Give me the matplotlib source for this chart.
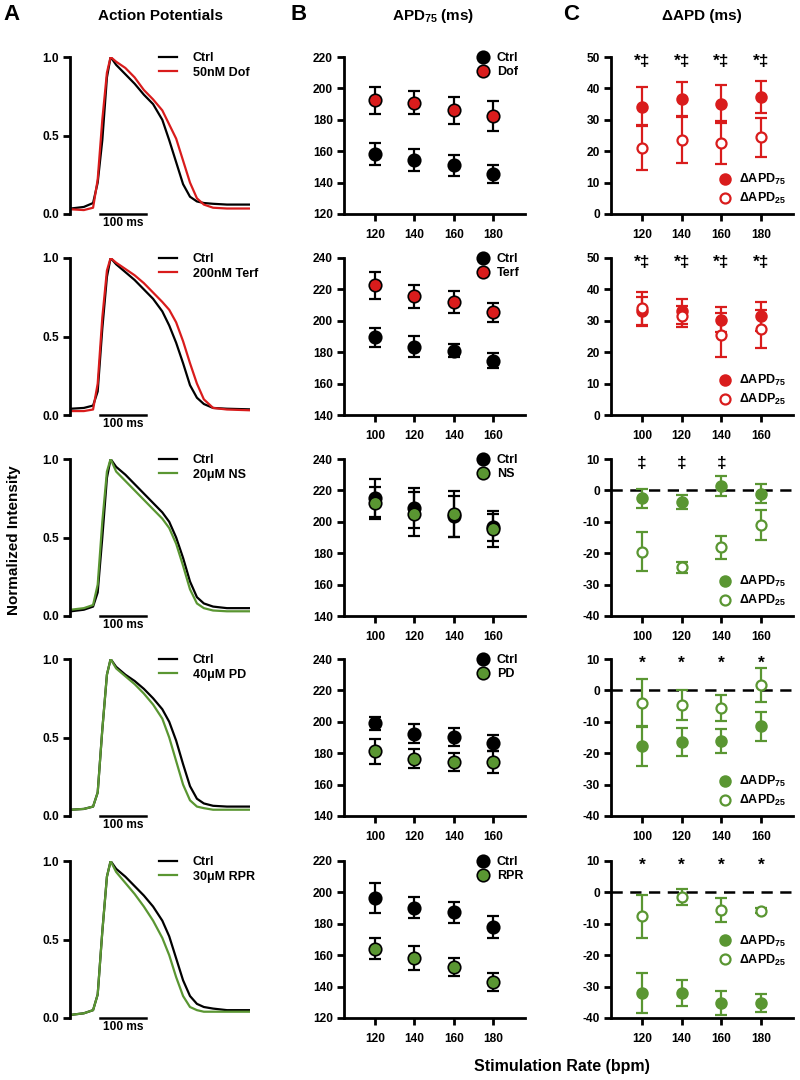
import matplotlib
matplotlib.use('Agg')
import matplotlib.pyplot as plt

plt.rcParams['font.family'] = ['Liberation Sans', 'DejaVu Sans']
plt.rcParams['font.weight'] = 'bold'
plt.rcParams['mathtext.fontset'] = 'custom'
plt.rcParams['mathtext.rm'] = 'Liberation Sans:bold'
plt.rcParams['mathtext.default'] = 'rm'
plt.rcParams['axes.unicode_minus'] = False

RED = '#d91c1c'
GREEN = '#5a9632'

# ---- A: normalized action potentials
t_ms = [2, 30, 50, 60, 70, 80, 88, 100, 120, 140, 160, 180, 200, 215, 230, 245, 260, 275, 290, 310, 340, 390]
ap_ctrl_1 = [0.035, 0.045, 0.07, 0.2, 0.47, 0.87, 1.0, 0.95, 0.89, 0.83, 0.76, 0.7, 0.6, 0.47, 0.33, 0.19, 0.11, 0.08, 0.07, 0.065, 0.06, 0.06]
ap_dof = [0.03, 0.025, 0.04, 0.22, 0.6, 0.9, 1.0, 0.97, 0.93, 0.87, 0.79, 0.73, 0.66, 0.57, 0.48, 0.34, 0.2, 0.1, 0.06, 0.04, 0.035, 0.035]
ap_ctrl_2 = [0.04, 0.045, 0.06, 0.15, 0.55, 0.88, 1.0, 0.96, 0.91, 0.86, 0.8, 0.74, 0.66, 0.57, 0.46, 0.33, 0.19, 0.11, 0.07, 0.045, 0.04, 0.036]
ap_terf = [0.025, 0.025, 0.035, 0.2, 0.62, 0.92, 1.0, 0.97, 0.93, 0.89, 0.84, 0.78, 0.72, 0.67, 0.59, 0.47, 0.33, 0.2, 0.1, 0.045, 0.035, 0.03]
ap_ctrl_3 = [0.03, 0.04, 0.06, 0.15, 0.5, 0.88, 1.0, 0.95, 0.9, 0.84, 0.78, 0.72, 0.66, 0.6, 0.5, 0.37, 0.22, 0.12, 0.08, 0.06, 0.05, 0.05]
ap_ns = [0.04, 0.05, 0.07, 0.2, 0.6, 0.92, 1.0, 0.92, 0.86, 0.8, 0.74, 0.68, 0.62, 0.56, 0.46, 0.32, 0.17, 0.08, 0.05, 0.035, 0.03, 0.03]
ap_ctrl_4 = [0.04, 0.045, 0.06, 0.15, 0.55, 0.9, 1.0, 0.95, 0.9, 0.86, 0.81, 0.75, 0.68, 0.6, 0.48, 0.33, 0.19, 0.11, 0.08, 0.065, 0.06, 0.06]
ap_pd = [0.04, 0.045, 0.06, 0.15, 0.55, 0.9, 1.0, 0.94, 0.89, 0.84, 0.78, 0.71, 0.62, 0.5, 0.35, 0.2, 0.1, 0.06, 0.05, 0.04, 0.04, 0.04]
ap_ctrl_5 = [0.02, 0.03, 0.05, 0.15, 0.55, 0.9, 1.0, 0.95, 0.9, 0.84, 0.78, 0.71, 0.62, 0.52, 0.38, 0.24, 0.14, 0.09, 0.07, 0.06, 0.05, 0.05]
ap_rpr = [0.02, 0.03, 0.05, 0.15, 0.55, 0.9, 1.0, 0.93, 0.86, 0.79, 0.71, 0.62, 0.51, 0.4, 0.26, 0.14, 0.07, 0.05, 0.04, 0.04, 0.04, 0.04]
ap_labels = ['50nM Dof', '200nM Terf', '20\u03bcM NS', '40\u03bcM PD', '30\u03bcM RPR']

# ---- B: APD75 (ms), mean and SEM
rates_a = ['120', '140', '160', '180']
rates_b = ['100', '120', '140', '160']
drug_names = ['Dof', 'Terf', 'NS', 'PD', 'RPR']

apd_ctrl_1 = [158.5, 154.5, 151, 145.5]
apd_ctrl_1_err = [7, 6.8, 6.5, 5.9]
apd_dof = [192.5, 191, 186, 182.5]
apd_dof_err = [8.5, 7.5, 8.5, 9.7]

apd_ctrl_2 = [189.5, 183.5, 181, 174.7]
apd_ctrl_2_err = [6.2, 6.6, 4, 4.7]
apd_terf = [222.5, 215.5, 211.7, 205.5]
apd_terf_err = [8.5, 7.3, 7, 6]

apd_ctrl_3 = [215, 209, 203.5, 196.5]
apd_ctrl_3_err = [12, 12.8, 13, 8.5]
apd_ns = [212, 205, 205, 195.5]
apd_ns_err = [10, 14, 14.5, 11.5]

apd_ctrl_4 = [199, 192.5, 190.2, 186.4]
apd_ctrl_4_err = [4.3, 6, 5.7, 5.3]
apd_pd = [181.2, 176.5, 174.2, 174.6]
apd_pd_err = [7.9, 6, 5.7, 6.9]

apd_ctrl_5 = [196.4, 190.2, 187.2, 178]
apd_ctrl_5_err = [9.3, 6.6, 7, 7]
apd_rpr = [164, 158.3, 152.3, 142.8]
apd_rpr_err = [6.7, 7.6, 5.7, 5.7]

# ---- C: delta APD (ms), mean and SEM
d75_1 = [34.2, 36.6, 35.1, 37.2]
d75_1_err = [6.2, 5.4, 6, 5]
d25_1 = [21.1, 23.5, 22.7, 24.4]
d25_1_err = [7.2, 7.3, 6.8, 6.1]

d75_2 = [33, 33, 30.3, 31.4]
d75_2_err = [4.5, 3.9, 4, 4.5]
d25_2 = [34, 31.4, 25.5, 27.4]
d25_2_err = [5.2, 3.4, 7, 6]

d75_3 = [-2.5, -3.7, 1.3, -1.1]
d75_3_err = [3, 2.2, 3.2, 3]
d25_3 = [-19.5, -24.5, -18.1, -10.9]
d25_3_err = [6.3, 1.8, 3.6, 4.8]

d75_4 = [-17.8, -16.4, -16.1, -11.4]
d75_4_err = [6.2, 4.4, 3.9, 4.6]
d25_4 = [-3.9, -4.7, -5.7, 1.8]
d25_4_err = [7.5, 4.8, 4.2, 5.4]

d75_5 = [-32, -32, -35.1, -35.3]
d75_5_err = [6.4, 4.2, 3.8, 2.9]
d25_5 = [-7.6, -1.5, -5.6, -5.8]
d25_5_err = [6.8, 2.5, 3.8, 0.8]

sig_1 = ['*\u2021', '*\u2021', '*\u2021', '*\u2021']
sig_2 = ['*\u2021', '*\u2021', '*\u2021', '*\u2021']
sig_3 = ['\u2021', '\u2021', '\u2021', '']
sig_4 = ['*', '*', '*', '*']
sig_5 = ['*', '*', '*', '*']

c_label75 = ['\u0394APD$_{75}$', '\u0394APD$_{75}$', '\u0394APD$_{75}$', '\u0394ADP$_{75}$', '\u0394APD$_{75}$']
c_label25 = ['\u0394APD$_{25}$', '\u0394ADP$_{25}$', '\u0394APD$_{25}$', '\u0394APD$_{25}$', '\u0394APD$_{25}$']

ap_ctrl = [ap_ctrl_1, ap_ctrl_2, ap_ctrl_3, ap_ctrl_4, ap_ctrl_5]
ap_drug = [ap_dof, ap_terf, ap_ns, ap_pd, ap_rpr]
b_ctrl = [(apd_ctrl_1, apd_ctrl_1_err), (apd_ctrl_2, apd_ctrl_2_err), (apd_ctrl_3, apd_ctrl_3_err),
          (apd_ctrl_4, apd_ctrl_4_err), (apd_ctrl_5, apd_ctrl_5_err)]
b_drug = [(apd_dof, apd_dof_err), (apd_terf, apd_terf_err), (apd_ns, apd_ns_err),
          (apd_pd, apd_pd_err), (apd_rpr, apd_rpr_err)]
c_75 = [(d75_1, d75_1_err), (d75_2, d75_2_err), (d75_3, d75_3_err), (d75_4, d75_4_err), (d75_5, d75_5_err)]
c_25 = [(d25_1, d25_1_err), (d25_2, d25_2_err), (d25_3, d25_3_err), (d25_4, d25_4_err), (d25_5, d25_5_err)]
sigs = [sig_1, sig_2, sig_3, sig_4, sig_5]
row_rates = [rates_a, rates_b, rates_b, rates_b, rates_a]
row_color = [RED, RED, GREEN, GREEN, GREEN]
b_ylim = [(120, 220), (140, 240), (140, 240), (140, 240), (120, 220)]
c_ylim = [(0, 50), (0, 50), (-40, 10), (-40, 10), (-40, 10)]
c_leg_y = [0.01, 0.01, 0.01, 0.01, 0.28]

W, H = 800, 1080
fig = plt.figure(figsize=(W / 100, H / 100), dpi=100)
tops = [57, 258, 459, 659, 861]
axh = 157
FS = 8.6
LFS = 9


def add_ax(x0, x1, top):
    return fig.add_axes([x0 / W, 1 - (top + axh) / H, (x1 - x0) / W, axh / H])


def style(ax):
    ax.spines['top'].set_visible(False)
    ax.spines['right'].set_visible(False)
    ax.spines['left'].set_linewidth(2)
    ax.spines['bottom'].set_linewidth(2)
    ax.tick_params(width=2, length=5, labelsize=FS, pad=3)


for i in range(5):
    col = row_color[i]
    xs = list(range(len(row_rates[i])))

    # A
    ax = add_ax(70, 250, tops[i])
    style(ax)
    ax.plot(t_ms, ap_ctrl[i], color='k', lw=1.6, label='Ctrl')
    ax.plot(t_ms, ap_drug[i], color=col, lw=1.6, label=ap_labels[i])
    ax.set_xlim(0, 390)
    ax.set_ylim(0, 1)
    ax.spines['bottom'].set_visible(False)
    ax.set_xticks([])
    ax.set_yticks([0, 0.5, 1.0])
    ax.set_yticklabels(['0.0', '0.5', '1.0'])
    ax.plot([65, 165], [0, 0], color='k', lw=1.8, clip_on=False)
    ax.text(115, -0.02, '100 ms', ha='center', va='top', fontsize=FS)
    ax.legend(loc='upper left', bbox_to_anchor=(0.46, 1.07), frameon=False, fontsize=LFS,
              handlelength=1.4, handletextpad=1.3, labelspacing=0.2, borderpad=0)

    # B
    ax = add_ax(344, 525, tops[i])
    style(ax)
    cm, ce = b_ctrl[i]
    dm, de = b_drug[i]
    ax.errorbar(xs, cm, yerr=ce, fmt='none', ecolor='k', elinewidth=1.6, capsize=4, capthick=1.6)
    ax.errorbar(xs, dm, yerr=de, fmt='none', ecolor='k', elinewidth=1.6, capsize=4, capthick=1.6)
    ax.plot(xs, cm, 'o', ms=9, mfc='k', mec='k', mew=1.2, label='Ctrl')
    ax.plot(xs, dm, 'o', ms=9, mfc=col, mec='k', mew=1.2, label=drug_names[i])
    ax.set_xlim(-0.78, 3.8)
    ax.set_ylim(*b_ylim[i])
    ax.set_yticks(range(b_ylim[i][0], b_ylim[i][1] + 1, 20))
    ax.set_xticks(xs)
    ax.set_xticklabels(row_rates[i])
    ax.tick_params(axis='x', pad=6)
    ax.legend(loc='upper left', bbox_to_anchor=(0.70, 1.07), frameon=False, fontsize=LFS,
              handlelength=1.0, handletextpad=0.6, labelspacing=0.15, borderpad=0)

    # C
    ax = add_ax(611, 793, tops[i])
    style(ax)
    m75, e75 = c_75[i]
    m25, e25 = c_25[i]
    if c_ylim[i][0] < 0:
        ax.axhline(0, color='k', lw=1.8, ls=(0, (4.5, 3)), zorder=1)
    ax.errorbar(xs, m75, yerr=e75, fmt='none', ecolor=col, elinewidth=1.6, capsize=4, capthick=1.6)
    ax.errorbar(xs, m25, yerr=e25, fmt='none', ecolor=col, elinewidth=1.6, capsize=4, capthick=1.6)
    ax.plot(xs, m75, 'o', ms=7.5, mfc=col, mec=col, mew=1.5, label=c_label75[i], zorder=3)
    ax.plot(xs, m25, 'o', ms=7.2, mfc='white', mec=col, mew=1.6, label=c_label25[i], zorder=4)
    ax.set_xlim(-0.78, 3.8)
    ax.set_ylim(*c_ylim[i])
    ax.set_yticks(range(c_ylim[i][0], c_ylim[i][1] + 1, 10))
    ax.set_xticks(xs)
    ax.set_xticklabels(row_rates[i])
    ax.tick_params(axis='x', pad=6)
    ytop = c_ylim[i][1] - 1.4
    for x, s in zip(xs, sigs[i]):
        ax.text(x, ytop, s, ha='center', va='center', fontsize=12.5)
    ax.legend(loc='lower left', bbox_to_anchor=(0.56, c_leg_y[i]), frameon=False, fontsize=LFS,
              handlelength=1.0, handletextpad=0.6, labelspacing=0.3, borderpad=0)

# headers
fig.text(3 / W, 1 - 15 / H, 'A', fontsize=16, va='center', ha='left')
fig.text(160 / W, 1 - 16 / H, 'Action Potentials', fontsize=11, va='center', ha='center')
fig.text(291 / W, 1 - 15 / H, 'B', fontsize=16, va='center', ha='left')
fig.text(433 / W, 1 - 16 / H, 'APD$_{75}$ (ms)', fontsize=11, va='center', ha='center')
fig.text(563 / W, 1 - 15 / H, 'C', fontsize=16, va='center', ha='left')
fig.text(702 / W, 1 - 16 / H, '\u0394APD (ms)', fontsize=11, va='center', ha='center')
fig.text(14 / W, 1 - 540 / H, 'Normalized Intensity', fontsize=11, rotation=90, va='center', ha='center')
fig.text(562 / W, 1 - 1066 / H, 'Stimulation Rate (bpm)', fontsize=11.5, va='center', ha='center')

fig.savefig('out.png', dpi=100, facecolor='white')
